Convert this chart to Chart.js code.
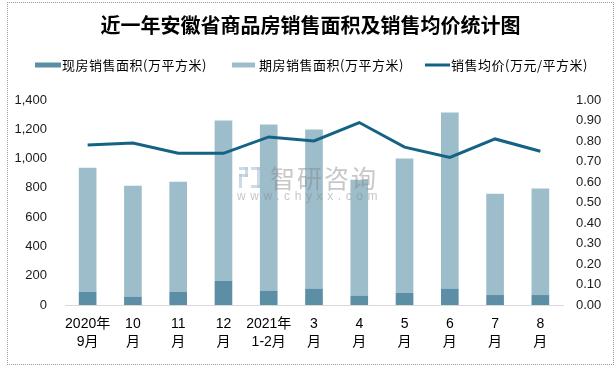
<!DOCTYPE html>
<html><head><meta charset="utf-8">
<script src="https://cdn.jsdelivr.net/npm/chart.js@4/dist/chart.umd.min.js"></script>
<style>
html,body{margin:0;padding:0;background:#fff;}
#wrap{position:relative;width:615px;height:369px;}
#frame{position:absolute;left:7px;top:2px;width:605px;height:361px;border:1px dotted #9a9a9a;pointer-events:none;box-sizing:content-box;}
canvas{display:block;}
</style></head>
<body><div id="wrap"><canvas id="c" width="615" height="369"></canvas><div id="frame"></div></div>
<script>
const titleText = '近一年安徽省商品房销售面积及销售均价统计图';
const categories = [['2020年','9月'],['10','月'],['11','月'],['12','月'],['2021年','1-2月'],['3','月'],['4','月'],['5','月'],['6','月'],['7','月'],['8','月']];
const seriesNames = ['现房销售面积(万平方米)','期房销售面积(万平方米)','销售均价(万元/平方米)'];
const spotArea = [89, 55, 89, 164, 96, 110, 62, 82, 110, 68, 68];
const futureArea = [849, 760, 753, 1096, 1137, 1088, 794, 918, 1205, 692, 727];
const avgPrice = [0.78, 0.79, 0.74, 0.74, 0.82, 0.80, 0.89, 0.77, 0.72, 0.81, 0.75];
const leftTicks = [0, 200, 400, 600, 800, 1000, 1200, 1400];
const rightTicks = [0,0.1,0.2,0.3,0.4,0.5,0.6,0.7,0.8,0.9,1.0];

const C_DARK = '#5c8fa6', C_LIGHT = '#9dbdcb', C_LINE = '#146384';
const CJK = '"Noto Sans CJK SC", "Liberation Sans", sans-serif';
const NUM = '"Liberation Sans", "Noto Sans CJK SC", sans-serif';

const decor = {
  id: 'decor',
  afterDatasetsDraw(chart) {
    const ctx = chart.ctx;
    ctx.save();
    ctx.fillStyle = 'rgba(130,130,130,0.45)';
    ctx.font = '25px ' + CJK;
    ctx.textBaseline = 'middle';
    ctx.textAlign = 'left';
    try { ctx.letterSpacing = '2px'; } catch(e) {}
    ctx.fillText('智研咨询', 270, 178);
    ctx.font = '12px ' + NUM;
    try { ctx.letterSpacing = '4.6px'; } catch(e) {}
    ctx.fillText('www.chyxx.com', 237, 197);
    try { ctx.letterSpacing = '0px'; } catch(e) {}
    ctx.fillStyle = 'rgba(170,195,215,0.6)';
    ctx.fillRect(239, 167, 9, 3);
    ctx.fillRect(245, 167, 3, 10);
    ctx.fillRect(239, 174, 9, 3);
    ctx.fillRect(239, 174, 3, 14);
    ctx.fillRect(251, 167, 9, 3);
    ctx.fillRect(257, 167, 3, 21);
    ctx.fillRect(251, 185, 9, 3);
    ctx.restore();
  },
  afterDraw(chart) {
    const ctx = chart.ctx;
    ctx.save();
    ctx.fillStyle = '#000';
    ctx.font = 'bold 20px ' + CJK;
    ctx.textAlign = 'center';
    ctx.textBaseline = 'middle';
    ctx.fillText(titleText, 310.5, 25);
    const ds = chart.data.datasets;
    ctx.font = '13px ' + CJK;
    ctx.textAlign = 'left';
    try { ctx.letterSpacing = '0.5px'; } catch(e) {}
    ctx.fillStyle = ds[0].backgroundColor;
    ctx.fillRect(35, 62.5, 26, 5);
    ctx.fillStyle = '#000';
    ctx.fillText(ds[0].label, 62, 65);
    ctx.fillStyle = ds[1].backgroundColor;
    ctx.fillRect(232, 62.5, 23, 5);
    ctx.fillStyle = '#000';
    ctx.fillText(ds[1].label, 259, 65);
    ctx.strokeStyle = ds[2].borderColor;
    ctx.lineWidth = 3;
    ctx.beginPath(); ctx.moveTo(425, 65); ctx.lineTo(450, 65); ctx.stroke();
    ctx.fillText(ds[2].label, 451, 65);
    ctx.restore();
  }
};

new Chart(document.getElementById('c'), {
  type: 'bar',
  data: {
    labels: categories,
    datasets: [
      { label: seriesNames[0], data: spotArea, backgroundColor: C_DARK, yAxisID: 'y', stack: 's', order: 1, barPercentage: 0.39, categoryPercentage: 1 },
      { label: seriesNames[1], data: futureArea, backgroundColor: C_LIGHT, yAxisID: 'y', stack: 's', order: 1, barPercentage: 0.39, categoryPercentage: 1 },
      { type: 'line', label: seriesNames[2], data: avgPrice, borderColor: C_LINE, backgroundColor: C_LINE, borderWidth: 3, pointRadius: 0, tension: 0, yAxisID: 'y1', order: 0 }
    ]
  },
  options: {
    responsive: false,
    animation: false,
    devicePixelRatio: 1,
    layout: { padding: { top: 100, left: 0, right: 0, bottom: 0 } },
    plugins: { legend: { display: false }, title: { display: false }, tooltip: { enabled: false } },
    scales: {
      x: {
        stacked: true,
        grid: { display: false, drawTicks: false },
        border: { display: true, color: '#d9d9d9', width: 1 },
        ticks: { padding: 10, color: '#000', maxRotation: 0, autoSkip: false, font: { size: 14, family: NUM, lineHeight: 18/14 } },
        afterFit(s) { s.height = 64; }
      },
      y: {
        stacked: true,
        position: 'left',
        min: leftTicks[0], max: leftTicks[leftTicks.length - 1],
        grid: { display: false, drawTicks: false },
        border: { display: false },
        afterBuildTicks(s) { s.ticks = leftTicks.map(v => ({ value: v })); },
        ticks: { padding: 18, color: '#1a1a1a', font: { size: 13, family: NUM }, callback: v => Number(v).toLocaleString('en-US') },
        afterFit(s) { s.width = 65; }
      },
      y1: {
        position: 'right',
        min: rightTicks[0], max: rightTicks[rightTicks.length - 1],
        grid: { display: false, drawTicks: false },
        border: { display: false },
        afterBuildTicks(s) { s.ticks = rightTicks.map(v => ({ value: v })); },
        ticks: { padding: 13, color: '#1a1a1a', font: { size: 13, family: NUM }, callback: v => Number(v).toFixed(2) },
        afterFit(s) { s.width = 52; }
      }
    }
  },
  plugins: [decor]
});
</script>
</body></html>
